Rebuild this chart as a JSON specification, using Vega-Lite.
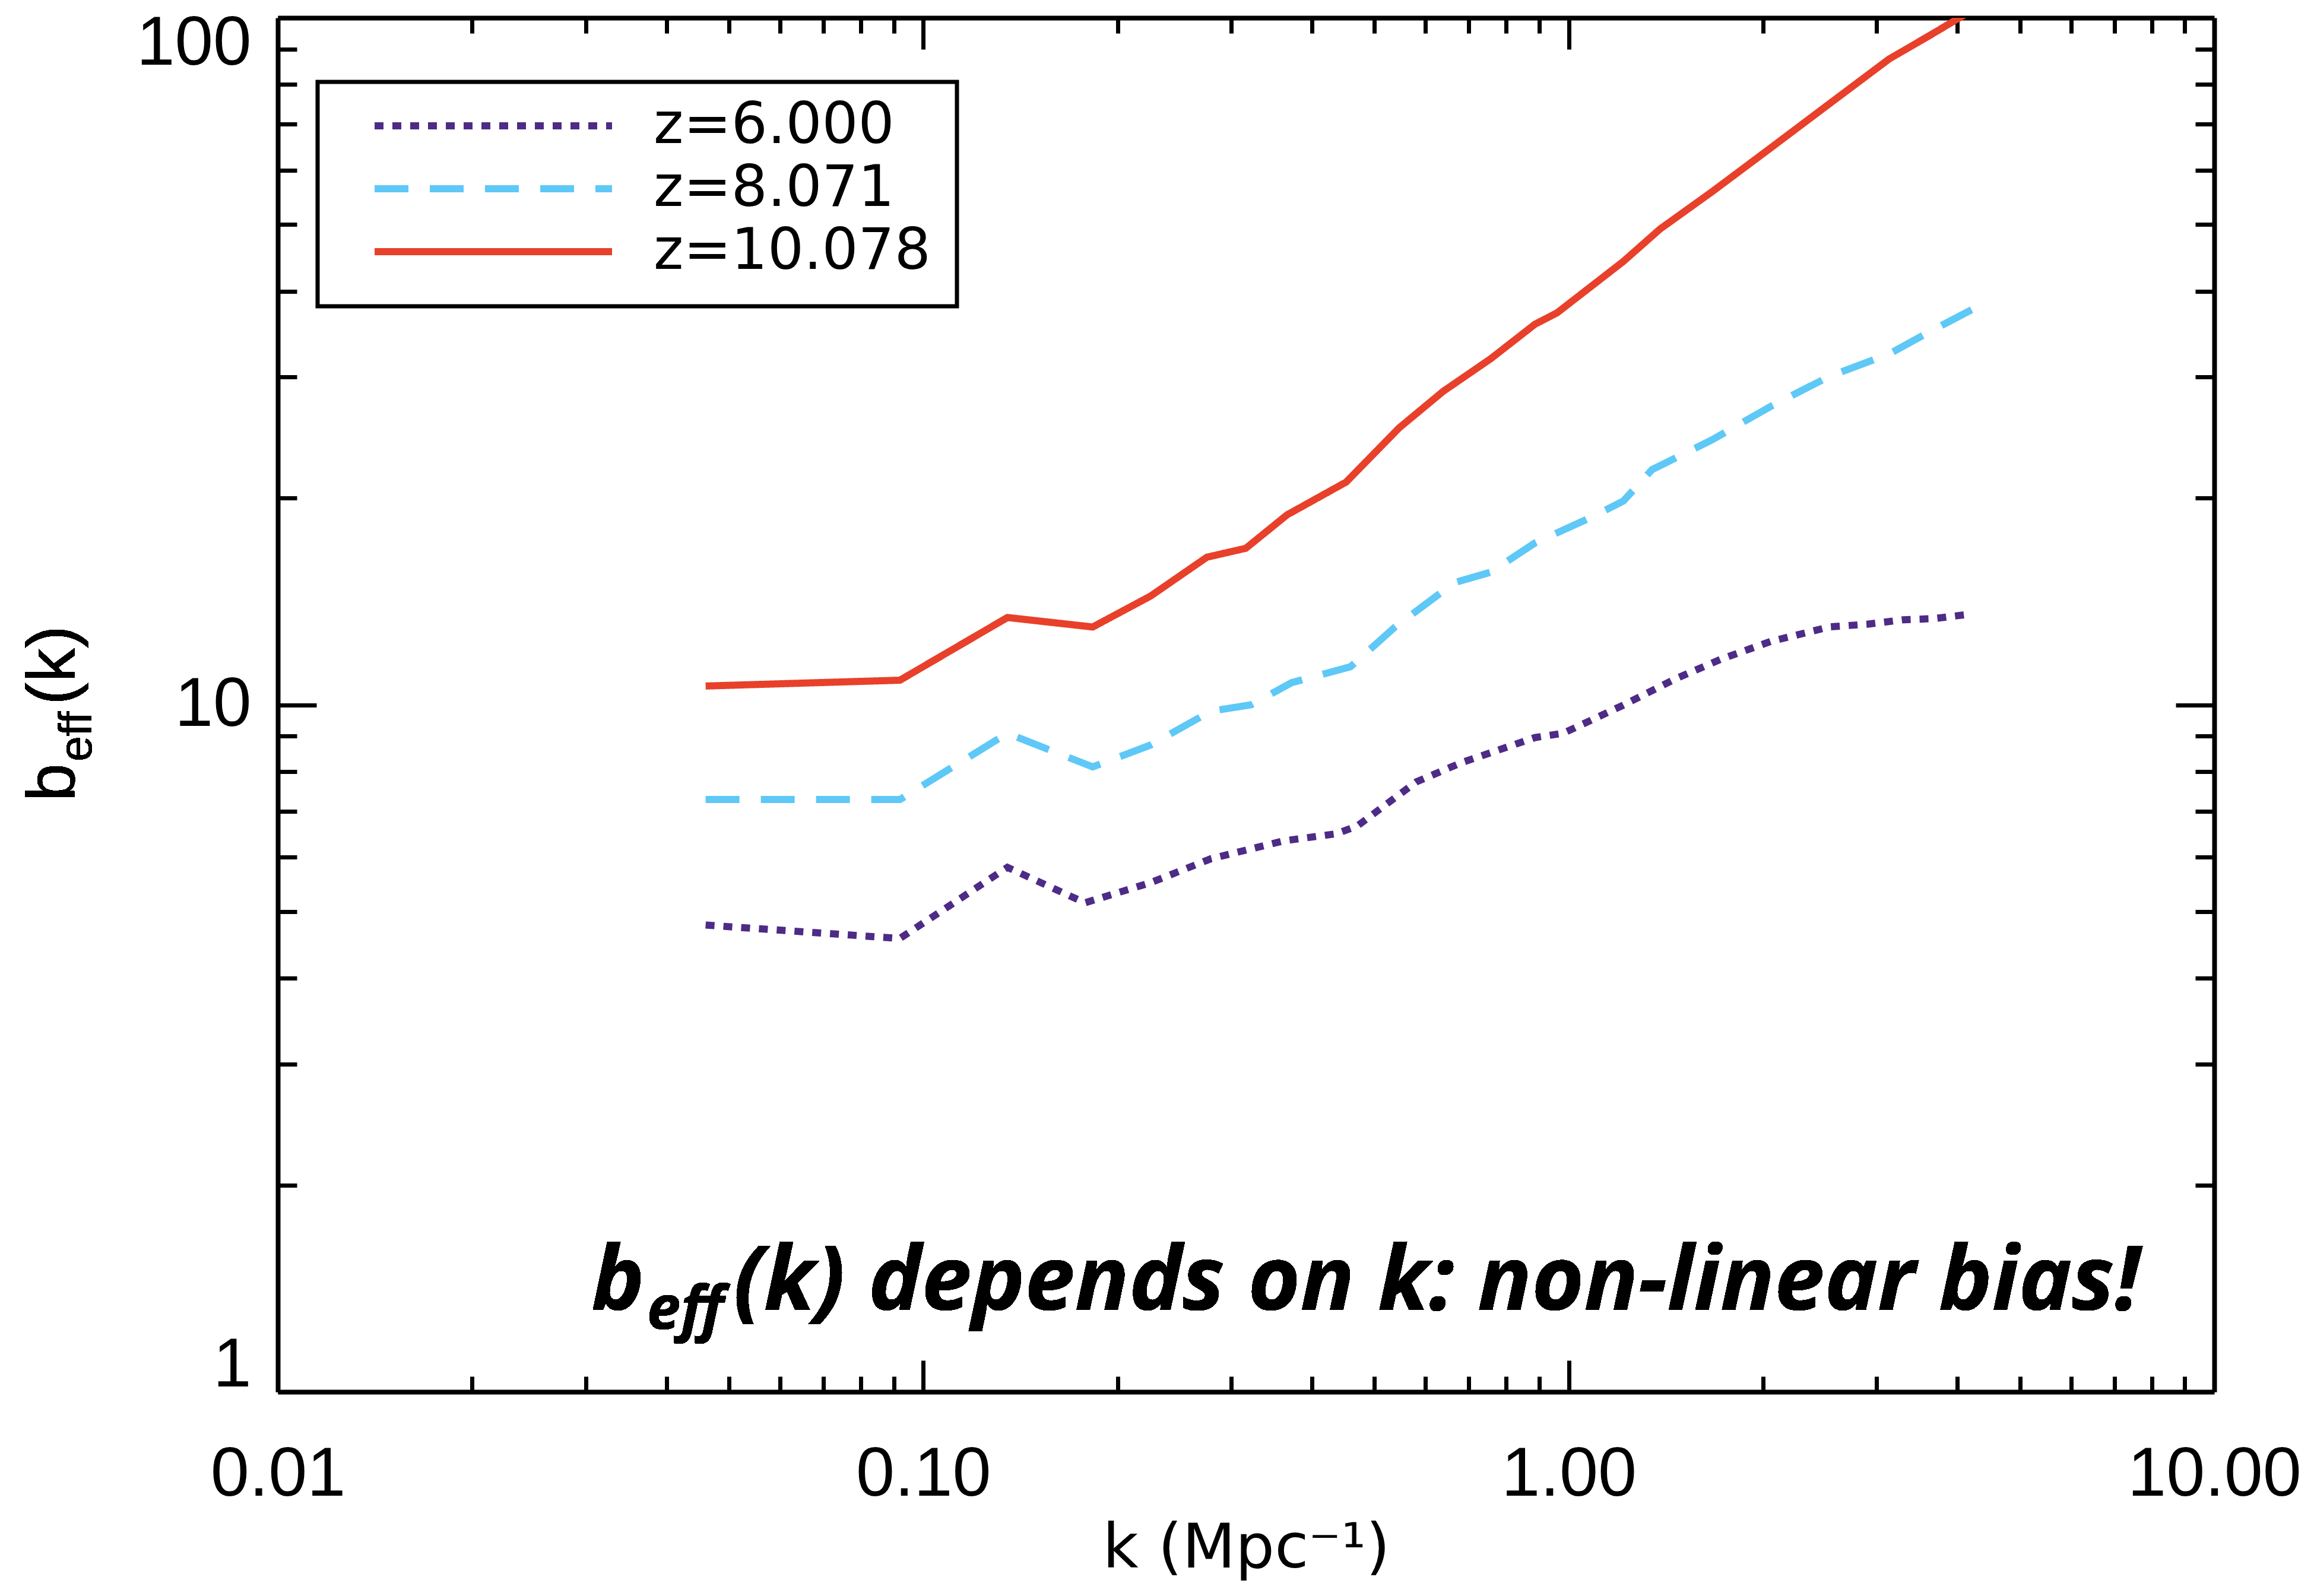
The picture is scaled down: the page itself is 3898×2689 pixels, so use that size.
{
  "$schema": "https://vega.github.io/schema/vega-lite/v6.json",
  "width": 3262,
  "height": 2315,
  "autosize": {"type": "none"},
  "padding": {"left": 468, "top": 30, "right": 168, "bottom": 344},
  "background": "white",
  "config": {
    "view": {"stroke": null},
    "axis": {"grid": false, "tickColor": "black", "domainColor": "black", "tickWidth": 7, "domainWidth": 8, "labelColor": "black", "labelFont": "Liberation Sans", "titleFont": "DejaVu Sans", "titleColor": "black", "titleFontWeight": "normal", "labelLimit": 2000, "titleLimit": 3000},
    "legend": {"strokeColor": "black", "strokeWidth": 7, "fillColor": "white", "labelLimit": 2000}
  },
  "datasets": {
    "bias": [
      {"k": 0.046, "b": 4.78, "z": "z=6.000"},
      {"k": 0.092, "b": 4.57, "z": "z=6.000"},
      {"k": 0.135, "b": 5.80, "z": "z=6.000"},
      {"k": 0.178, "b": 5.15, "z": "z=6.000"},
      {"k": 0.225, "b": 5.51, "z": "z=6.000"},
      {"k": 0.279, "b": 5.97, "z": "z=6.000"},
      {"k": 0.362, "b": 6.34, "z": "z=6.000"},
      {"k": 0.436, "b": 6.49, "z": "z=6.000"},
      {"k": 0.47, "b": 6.66, "z": "z=6.000"},
      {"k": 0.58, "b": 7.72, "z": "z=6.000"},
      {"k": 0.68, "b": 8.23, "z": "z=6.000"},
      {"k": 0.886, "b": 8.96, "z": "z=6.000"},
      {"k": 0.98, "b": 9.09, "z": "z=6.000"},
      {"k": 1.215, "b": 9.99, "z": "z=6.000"},
      {"k": 1.46, "b": 10.9, "z": "z=6.000"},
      {"k": 1.72, "b": 11.65, "z": "z=6.000"},
      {"k": 2.057, "b": 12.37, "z": "z=6.000"},
      {"k": 2.54, "b": 12.99, "z": "z=6.000"},
      {"k": 2.9, "b": 13.1, "z": "z=6.000"},
      {"k": 3.3, "b": 13.3, "z": "z=6.000"},
      {"k": 3.68, "b": 13.35, "z": "z=6.000"},
      {"k": 4.21, "b": 13.56, "z": "z=6.000"},
      {"k": 0.046, "b": 7.28, "z": "z=8.071"},
      {"k": 0.092, "b": 7.28, "z": "z=8.071"},
      {"k": 0.135, "b": 9.09, "z": "z=8.071"},
      {"k": 0.183, "b": 8.12, "z": "z=8.071"},
      {"k": 0.225, "b": 8.74, "z": "z=8.071"},
      {"k": 0.279, "b": 9.79, "z": "z=8.071"},
      {"k": 0.322, "b": 10.0, "z": "z=8.071"},
      {"k": 0.372, "b": 10.77, "z": "z=8.071"},
      {"k": 0.459, "b": 11.36, "z": "z=8.071"},
      {"k": 0.538, "b": 12.98, "z": "z=8.071"},
      {"k": 0.665, "b": 15.06, "z": "z=8.071"},
      {"k": 0.757, "b": 15.6, "z": "z=8.071"},
      {"k": 0.886, "b": 17.2, "z": "z=8.071"},
      {"k": 1.09, "b": 18.8, "z": "z=8.071"},
      {"k": 1.215, "b": 19.8, "z": "z=8.071"},
      {"k": 1.346, "b": 22.0, "z": "z=8.071"},
      {"k": 1.666, "b": 24.3, "z": "z=8.071"},
      {"k": 2.057, "b": 27.2, "z": "z=8.071"},
      {"k": 2.54, "b": 30.1, "z": "z=8.071"},
      {"k": 3.135, "b": 32.4, "z": "z=8.071"},
      {"k": 3.62, "b": 34.9, "z": "z=8.071"},
      {"k": 4.21, "b": 37.6, "z": "z=8.071"},
      {"k": 0.046, "b": 10.65, "z": "z=10.078"},
      {"k": 0.092, "b": 10.86, "z": "z=10.078"},
      {"k": 0.135, "b": 13.4, "z": "z=10.078"},
      {"k": 0.183, "b": 12.98, "z": "z=10.078"},
      {"k": 0.225, "b": 14.4, "z": "z=10.078"},
      {"k": 0.275, "b": 16.4, "z": "z=10.078"},
      {"k": 0.316, "b": 16.9, "z": "z=10.078"},
      {"k": 0.366, "b": 18.9, "z": "z=10.078"},
      {"k": 0.452, "b": 21.1, "z": "z=10.078"},
      {"k": 0.546, "b": 25.3, "z": "z=10.078"},
      {"k": 0.639, "b": 28.6, "z": "z=10.078"},
      {"k": 0.757, "b": 31.9, "z": "z=10.078"},
      {"k": 0.886, "b": 35.8, "z": "z=10.078"},
      {"k": 0.959, "b": 37.2, "z": "z=10.078"},
      {"k": 1.215, "b": 44.2, "z": "z=10.078"},
      {"k": 1.386, "b": 49.3, "z": "z=10.078"},
      {"k": 1.666, "b": 55.8, "z": "z=10.078"},
      {"k": 2.057, "b": 64.7, "z": "z=10.078"},
      {"k": 2.54, "b": 75.1, "z": "z=10.078"},
      {"k": 3.135, "b": 87.1, "z": "z=10.078"},
      {"k": 3.62, "b": 94.2, "z": "z=10.078"},
      {"k": 4.21, "b": 102.5, "z": "z=10.078"}
    ]
  },
  "data": {"name": "bias"},
  "resolve": {"axis": {"x": "independent", "y": "independent"}},
  "layer": [
    {
      "mark": {"type": "line", "clip": true, "strokeWidth": 12, "strokeCap": "butt"},
      "encoding": {
        "x": {"field": "k", "type": "quantitative", "scale": {"type": "log", "domain": [0.01, 10], "nice": false},
          "axis": {"orient": "bottom", "values": [0.01, 0.1, 1, 10], "format": ".2f", "title": "k  (Mpc⁻¹)", "tickSize": -53, "labelFontSize": 117, "labelPadding": 135, "labelOverlap": false, "labelFlush": false, "titleFontSize": 104, "titlePadding": 16}},
        "y": {"field": "b", "type": "quantitative", "scale": {"type": "log", "domain": [1, 100], "nice": false},
          "axis": {"orient": "left", "values": [1, 10, 100], "format": "d", "title": null, "tickSize": -65, "labelFontSize": 116, "labelPadding": 110, "labelFlush": true, "labelFlushOffset": 14, "labelOverlap": false}},
        "color": {"field": "z", "type": "nominal", "scale": {"domain": ["z=6.000", "z=8.071", "z=10.078"], "range": ["#4d2b86", "#5ec8f7", "#e8402a"]},
          "legend": {"orient": "none", "legendX": 67, "legendY": 108, "title": null, "symbolType": "stroke", "symbolSize": 160000, "symbolStrokeWidth": 12, "clipHeight": 60, "rowPadding": 10, "padding": 44, "symbolOffset": 46, "labelOffset": 64, "labelFont": "DejaVu Sans", "labelFontSize": 96, "labelColor": "black"}},
        "strokeDash": {"field": "z", "type": "nominal", "scale": {"domain": ["z=6.000", "z=8.071", "z=10.078"], "range": [[15, 15], [57, 36], [1, 0]]}, "legend": {"orient": "none", "legendX": 67, "legendY": 108, "title": null}},
        "detail": {"field": "z"}
      }
    },
    {
      "mark": {"type": "point", "opacity": 0},
      "encoding": {
        "x": {"field": "k", "type": "quantitative", "scale": {"type": "log", "domain": [0.01, 10], "nice": false},
          "axis": {"orient": "bottom", "values": [0.02, 0.03, 0.04, 0.05, 0.06, 0.07, 0.08, 0.09, 0.2, 0.3, 0.4, 0.5, 0.6, 0.7, 0.8, 0.9, 2, 3, 4, 5, 6, 7, 8, 9], "labels": false, "domain": false, "title": null, "tickSize": -26}},
        "y": {"field": "b", "type": "quantitative", "scale": {"type": "log", "domain": [1, 100], "nice": false},
          "axis": {"orient": "left", "values": [2, 3, 4, 5, 6, 7, 8, 9, 20, 30, 40, 50, 60, 70, 80, 90], "labels": false, "domain": false, "title": null, "tickSize": -32}}
      }
    },
    {
      "mark": {"type": "point", "opacity": 0},
      "encoding": {
        "x": {"field": "k", "type": "quantitative", "scale": {"type": "log", "domain": [0.01, 10], "nice": false},
          "axis": {"orient": "top", "values": [0.1, 1], "labels": false, "domain": true, "title": null, "tickSize": -53}},
        "y": {"field": "b", "type": "quantitative", "scale": {"type": "log", "domain": [1, 100], "nice": false},
          "axis": {"orient": "right", "values": [10], "labels": false, "domain": true, "title": null, "tickSize": -65}}
      }
    },
    {
      "mark": {"type": "point", "opacity": 0},
      "encoding": {
        "x": {"field": "k", "type": "quantitative", "scale": {"type": "log", "domain": [0.01, 10], "nice": false},
          "axis": {"orient": "top", "values": [0.02, 0.03, 0.04, 0.05, 0.06, 0.07, 0.08, 0.09, 0.2, 0.3, 0.4, 0.5, 0.6, 0.7, 0.8, 0.9, 2, 3, 4, 5, 6, 7, 8, 9], "labels": false, "domain": false, "title": null, "tickSize": -26}},
        "y": {"field": "b", "type": "quantitative", "scale": {"type": "log", "domain": [1, 100], "nice": false},
          "axis": {"orient": "right", "values": [2, 3, 4, 5, 6, 7, 8, 9, 20, 30, 40, 50, 60, 70, 80, 90], "labels": false, "domain": false, "title": null, "tickSize": -32}}
      }
    },
    {
      "mark": {"type": "text", "text": "b", "angle": 270, "align": "left", "baseline": "alphabetic", "font": "Liberation Sans", "fontSize": 115, "color": "black"},
      "encoding": {
        "x": {"datum": 0.004836, "type": "quantitative", "scale": {"type": "log", "domain": [0.01, 10], "nice": false}, "axis": null},
        "y": {"datum": 7.237, "type": "quantitative", "scale": {"type": "log", "domain": [1, 100], "nice": false}, "axis": null}
      }
    },
    {
      "mark": {"type": "text", "text": "eff", "angle": 270, "align": "left", "baseline": "alphabetic", "font": "Liberation Sans", "fontSize": 77, "color": "black"},
      "encoding": {
        "x": {"datum": 0.00514, "type": "quantitative", "scale": {"type": "log", "domain": [0.01, 10], "nice": false}, "axis": null},
        "y": {"datum": 8.27, "type": "quantitative", "scale": {"type": "log", "domain": [1, 100], "nice": false}, "axis": null}
      }
    },
    {
      "mark": {"type": "text", "text": "(k)", "angle": 270, "align": "left", "baseline": "alphabetic", "font": "Liberation Sans", "fontSize": 115, "color": "black"},
      "encoding": {
        "x": {"datum": 0.004836, "type": "quantitative", "scale": {"type": "log", "domain": [0.01, 10], "nice": false}, "axis": null},
        "y": {"datum": 9.99, "type": "quantitative", "scale": {"type": "log", "domain": [1, 100], "nice": false}, "axis": null}
      }
    },
    {
      "mark": {"type": "text", "text": "b", "align": "left", "baseline": "alphabetic", "font": "Open Sans", "fontWeight": "bold", "fontStyle": "italic", "fontSize": 150, "color": "black"},
      "encoding": {
        "x": {"datum": 0.0306, "type": "quantitative", "scale": {"type": "log", "domain": [0.01, 10], "nice": false}, "axis": null},
        "y": {"datum": 1.316, "type": "quantitative", "scale": {"type": "log", "domain": [1, 100], "nice": false}, "axis": null}
      }
    },
    {
      "mark": {"type": "text", "text": "eff", "align": "left", "baseline": "alphabetic", "font": "Open Sans", "fontWeight": "bold", "fontStyle": "italic", "fontSize": 102, "color": "black"},
      "encoding": {
        "x": {"datum": 0.0373, "type": "quantitative", "scale": {"type": "log", "domain": [0.01, 10], "nice": false}, "axis": null},
        "y": {"datum": 1.235, "type": "quantitative", "scale": {"type": "log", "domain": [1, 100], "nice": false}, "axis": null}
      }
    },
    {
      "mark": {"type": "text", "text": "(k) depends on k: non-linear bias!", "align": "left", "baseline": "alphabetic", "font": "Open Sans", "fontWeight": "bold", "fontStyle": "italic", "fontSize": 151, "color": "black"},
      "encoding": {
        "x": {"datum": 0.0508, "type": "quantitative", "scale": {"type": "log", "domain": [0.01, 10], "nice": false}, "axis": null},
        "y": {"datum": 1.316, "type": "quantitative", "scale": {"type": "log", "domain": [1, 100], "nice": false}, "axis": null}
      }
    }
  ]
}
